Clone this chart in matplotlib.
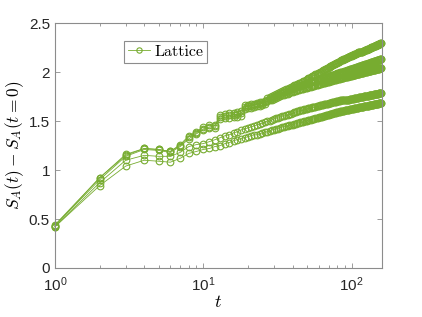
import matplotlib
matplotlib.use("Agg")
import matplotlib.pyplot as plt

# sampling times
t = list(range(1, 159))

# S_A(t) - S_A(t=0), five runs
run_a = [0.44, 0.92, 1.16, 1.22, 1.21, 1.19, 1.26, 1.35, 1.39, 1.44, 1.46, 1.46,
         1.56, 1.57, 1.58, 1.58, 1.59, 1.60,
         1.66, 1.66, 1.67, 1.67, 1.68, 1.69, 1.69, 1.70,
         1.74, 1.75, 1.76, 1.77, 1.78, 1.79, 1.80,
         1.81, 1.82, 1.83, 1.83, 1.84, 1.85, 1.86, 1.87, 1.87, 1.88, 1.89, 1.89, 1.90,
         1.91, 1.91, 1.92, 1.93, 1.94, 1.94, 1.95, 1.96, 1.96, 1.97, 1.98, 1.98, 1.99, 1.99,
         2.00, 2.00, 2.01, 2.02, 2.02, 2.03, 2.03, 2.04, 2.04, 2.05,
         2.05, 2.06, 2.06, 2.07, 2.07, 2.08, 2.08, 2.09, 2.09, 2.09,
         2.10, 2.10, 2.11, 2.11, 2.12, 2.12, 2.12, 2.13, 2.13, 2.13,
         2.14, 2.14, 2.14, 2.15, 2.15, 2.15, 2.16, 2.16, 2.16, 2.16,
         2.17, 2.17, 2.17, 2.18, 2.18, 2.18, 2.18, 2.19, 2.19, 2.19,
         2.20, 2.20, 2.20, 2.20, 2.21, 2.21, 2.21, 2.21, 2.22, 2.22,
         2.22, 2.22, 2.23, 2.23, 2.23, 2.23, 2.24, 2.24, 2.24, 2.24,
         2.24, 2.25, 2.25, 2.25, 2.25, 2.26, 2.26, 2.26, 2.26, 2.26,
         2.27, 2.27, 2.27, 2.27, 2.27, 2.28, 2.28, 2.28, 2.28, 2.28,
         2.29, 2.29, 2.29, 2.29, 2.29, 2.30, 2.30, 2.30]

run_b = [0.43, 0.92, 1.15, 1.22, 1.21, 1.19, 1.25, 1.34, 1.38, 1.42, 1.44, 1.45,
         1.54, 1.55, 1.56, 1.56, 1.57, 1.58,
         1.64, 1.65, 1.65, 1.66, 1.67, 1.67, 1.68, 1.69,
         1.72, 1.73, 1.74, 1.75, 1.76, 1.77, 1.78,
         1.79, 1.80, 1.80, 1.81, 1.82, 1.83, 1.83, 1.84, 1.85, 1.85, 1.86, 1.86, 1.87,
         1.87, 1.88, 1.88, 1.89, 1.89, 1.90, 1.90, 1.90, 1.91, 1.91, 1.91, 1.92, 1.92, 1.93,
         1.93, 1.93, 1.94, 1.94, 1.94, 1.95, 1.95, 1.95, 1.95, 1.96,
         1.96, 1.96, 1.97, 1.97, 1.97, 1.97, 1.98, 1.98, 1.98, 1.99,
         1.99, 1.99, 1.99, 2.00, 2.00, 2.00, 2.00, 2.00, 2.01, 2.01,
         2.01, 2.01, 2.02, 2.02, 2.02, 2.02, 2.03, 2.03, 2.03, 2.03,
         2.03, 2.04, 2.04, 2.04, 2.04, 2.04, 2.05, 2.05, 2.05, 2.05,
         2.05, 2.06, 2.06, 2.06, 2.06, 2.06, 2.07, 2.07, 2.07, 2.07,
         2.07, 2.07, 2.08, 2.08, 2.08, 2.08, 2.08, 2.08, 2.09, 2.09,
         2.09, 2.09, 2.09, 2.09, 2.10, 2.10, 2.10, 2.10, 2.10, 2.10,
         2.11, 2.11, 2.11, 2.11, 2.11, 2.11, 2.11, 2.12, 2.12, 2.12,
         2.12, 2.12, 2.12, 2.12, 2.13, 2.13, 2.13, 2.13]

run_c = [0.43, 0.90, 1.14, 1.21, 1.20, 1.18, 1.24, 1.32, 1.37, 1.41, 1.43, 1.43,
         1.52, 1.53, 1.53, 1.54, 1.54, 1.55,
         1.62, 1.63, 1.63, 1.64, 1.65, 1.65, 1.66, 1.67,
         1.70, 1.71, 1.72, 1.73, 1.74, 1.75, 1.76,
         1.77, 1.77, 1.78, 1.78, 1.79, 1.80, 1.80, 1.81, 1.81, 1.82, 1.82, 1.83, 1.83,
         1.83, 1.84, 1.84, 1.84, 1.85, 1.85, 1.85, 1.86, 1.86, 1.86, 1.87, 1.87, 1.87, 1.88,
         1.88, 1.88, 1.89, 1.89, 1.89, 1.89, 1.90, 1.90, 1.90, 1.90,
         1.91, 1.91, 1.91, 1.91, 1.92, 1.92, 1.92, 1.92, 1.93, 1.93,
         1.93, 1.93, 1.93, 1.94, 1.94, 1.94, 1.94, 1.94, 1.95, 1.95,
         1.95, 1.95, 1.95, 1.95, 1.96, 1.96, 1.96, 1.96, 1.96, 1.96,
         1.97, 1.97, 1.97, 1.97, 1.97, 1.97, 1.98, 1.98, 1.98, 1.98,
         1.98, 1.98, 1.98, 1.99, 1.99, 1.99, 1.99, 1.99, 1.99, 1.99,
         2.00, 2.00, 2.00, 2.00, 2.00, 2.00, 2.00, 2.01, 2.01, 2.01,
         2.01, 2.01, 2.01, 2.01, 2.01, 2.02, 2.02, 2.02, 2.02, 2.02,
         2.02, 2.02, 2.02, 2.02, 2.03, 2.03, 2.03, 2.03, 2.03, 2.03,
         2.03, 2.03, 2.03, 2.04, 2.04, 2.04, 2.04, 2.04]

run_d = [0.42, 0.87, 1.10, 1.15, 1.14, 1.14, 1.18, 1.24, 1.26, 1.27, 1.29,
         1.31, 1.33, 1.35, 1.36, 1.38, 1.39, 1.41, 1.42,
         1.43, 1.44, 1.45, 1.46, 1.47, 1.48, 1.49, 1.50, 1.50, 1.51, 1.52, 1.53, 1.53, 1.54,
         1.55, 1.55, 1.56, 1.56, 1.57, 1.57, 1.58, 1.59, 1.59, 1.60, 1.60, 1.61, 1.61,
         1.61, 1.62, 1.62, 1.62, 1.63, 1.63, 1.63, 1.64, 1.64, 1.64, 1.64, 1.65, 1.65, 1.65,
         1.66, 1.66, 1.66, 1.66, 1.67, 1.67, 1.67, 1.67, 1.67, 1.68,
         1.68, 1.68, 1.68, 1.69, 1.69, 1.69, 1.69, 1.69, 1.70, 1.70,
         1.70, 1.70, 1.70, 1.71, 1.71, 1.71, 1.71, 1.71, 1.71, 1.72,
         1.72, 1.72, 1.72, 1.72, 1.72, 1.72, 1.73, 1.73, 1.73, 1.73,
         1.73, 1.73, 1.73, 1.74, 1.74, 1.74, 1.74, 1.74, 1.74, 1.74,
         1.74, 1.75, 1.75, 1.75, 1.75, 1.75, 1.75, 1.75, 1.75, 1.75,
         1.76, 1.76, 1.76, 1.76, 1.76, 1.76, 1.76, 1.76, 1.76, 1.76,
         1.77, 1.77, 1.77, 1.77, 1.77, 1.77, 1.77, 1.77, 1.77, 1.77,
         1.78, 1.78, 1.78, 1.78, 1.78, 1.78, 1.78, 1.78, 1.78, 1.78,
         1.78, 1.79, 1.79, 1.79, 1.79, 1.79, 1.79, 1.79]

run_e = [0.42, 0.84, 1.04, 1.10, 1.09, 1.08, 1.12, 1.17, 1.19, 1.21, 1.22,
         1.24, 1.25, 1.27, 1.28, 1.30, 1.31, 1.32, 1.33,
         1.34, 1.35, 1.36, 1.36, 1.37, 1.38, 1.39, 1.39, 1.40, 1.41, 1.41, 1.42, 1.42, 1.43,
         1.44, 1.44, 1.45, 1.45, 1.46, 1.46, 1.46, 1.47, 1.47, 1.48, 1.48, 1.49, 1.49,
         1.49, 1.50, 1.50, 1.50, 1.51, 1.51, 1.51, 1.52, 1.52, 1.52, 1.53, 1.53, 1.53, 1.54,
         1.54, 1.54, 1.54, 1.55, 1.55, 1.55, 1.56, 1.56, 1.56, 1.56,
         1.57, 1.57, 1.57, 1.57, 1.58, 1.58, 1.58, 1.58, 1.59, 1.59,
         1.59, 1.59, 1.59, 1.60, 1.60, 1.60, 1.60, 1.60, 1.60, 1.61,
         1.61, 1.61, 1.61, 1.61, 1.61, 1.61, 1.62, 1.62, 1.62, 1.62,
         1.62, 1.62, 1.62, 1.63, 1.63, 1.63, 1.63, 1.63, 1.63, 1.63,
         1.63, 1.64, 1.64, 1.64, 1.64, 1.64, 1.64, 1.64, 1.64, 1.64,
         1.65, 1.65, 1.65, 1.65, 1.65, 1.65, 1.65, 1.65, 1.65, 1.65,
         1.66, 1.66, 1.66, 1.66, 1.66, 1.66, 1.66, 1.66, 1.66, 1.66,
         1.67, 1.67, 1.67, 1.67, 1.67, 1.67, 1.67, 1.67, 1.67, 1.67,
         1.67, 1.68, 1.68, 1.68, 1.68, 1.68, 1.68, 1.68]

runs = [run_a, run_b, run_c, run_d, run_e]
yticks = [0, 0.5, 1, 1.5, 2, 2.5]
ytick_labels = ["0", "0.5", "1", "1.5", "2", "2.5"]

green = "#77AC30"
axis_grey = "#8c8c8c"

plt.rcParams["font.family"] = ["Liberation Sans", "DejaVu Sans"]
plt.rcParams["mathtext.fontset"] = "custom"
plt.rcParams["mathtext.rm"] = "Liberation Sans"
plt.rcParams["mathtext.it"] = "Liberation Sans:italic"

fig = plt.figure(figsize=(4.22, 3.17), dpi=100)
ax = fig.add_axes([0.130, 0.1546, 0.775, 0.7725])

for i, y in enumerate(runs):
    ax.plot(t, y, "-o", color=green, lw=0.6, ms=4.8, mfc="none", mew=0.8,
            label="Lattice" if i == 0 else None, clip_on=False)

ax.set_xscale("log")
ax.set_xlim(1, 160)
ax.set_ylim(0, 2.5)
ax.set_yticks(yticks)
ax.set_yticklabels(ytick_labels)

for s in ax.spines.values():
    s.set_color(axis_grey)
    s.set_linewidth(0.8)
ax.tick_params(which="both", direction="in", top=True, right=True,
               color=axis_grey, labelcolor="#262626", labelsize=11)
ax.tick_params(which="major", length=3.5, width=0.6)
ax.tick_params(which="minor", length=2.5, width=0.6)
ax.tick_params(axis="x", pad=5)

ax.set_xlabel(r"$t$", fontsize=13, math_fontfamily="cm", labelpad=0)
ax.set_ylabel(r"$S_A(t) - S_A(t=0)$", fontsize=12.5, math_fontfamily="cm",
              labelpad=2)

leg = ax.legend(loc="upper left", bbox_to_anchor=(0.211, 0.928),
                prop={"family": "cmr10", "size": 11.5}, fancybox=False,
                edgecolor=axis_grey, framealpha=1, handlelength=1.4,
                handletextpad=0.25, borderpad=0.25, borderaxespad=0,
                markerscale=0.8)
leg.get_frame().set_linewidth(0.8)

fig.savefig("out.png", dpi=100)
